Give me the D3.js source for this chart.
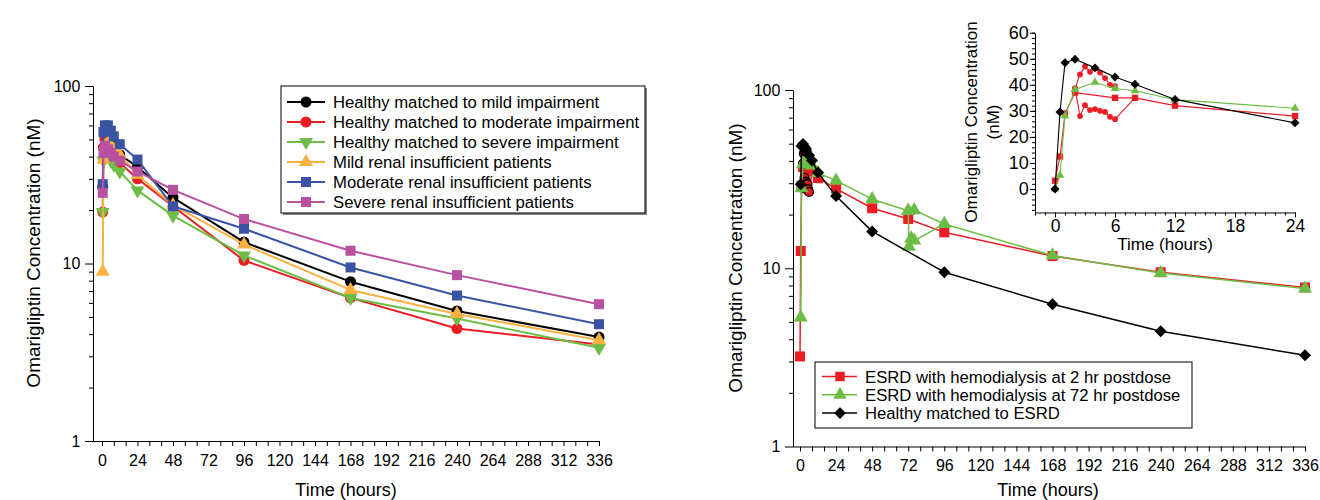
<!DOCTYPE html>
<html><head><meta charset="utf-8">
<script src="https://cdn.jsdelivr.net/npm/d3@7"></script>
<style>body{margin:0;background:#fff}svg{display:block}</style>
</head><body><svg id="c" width="1320" height="500"></svg>
<script>
// ---------------- DATA ----------------
// Left panel: renal insufficiency study (time in hours, concentration in nM)
const leftTimes = [0.5, 1, 2, 4, 6, 8, 12, 24, 48, 96, 168, 240, 336];
const healthyMild     = [27, 45, 52, 50, 47, 44, 41, 35, 23.5, 13.2, 7.9, 5.4, 3.85];
const healthyModerate = [19.5, 45, 50, 47, 43, 40, 37, 30, 21, 10.4, 6.4, 4.3, 3.5];
const healthySevere   = [19.5, 38, 42, 41, 38, 36, 33, 25.8, 18.6, 11.1, 6.4, 4.9, 3.35];
const mildRenal       = [9, 38.5, 46, 48, 46, 44, 41, 31.5, 21.3, 12.8, 7.1, 5.2, 3.7];
const moderateRenal   = [28, 55, 60, 60, 56, 52, 47, 38.5, 21, 15.7, 9.5, 6.6, 4.55];
const severeRenal     = [25, 42, 46, 44, 42, 40, 38, 33, 26, 17.8, 11.8, 8.6, 5.9];
const leftNames = ["Healthy matched to mild impairment", "Healthy matched to moderate impairment",
  "Healthy matched to severe impairment", "Mild renal insufficient patients",
  "Moderate renal insufficient patients", "Severe renal insufficient patients"];

// Right panel: ESRD study
const esrd2Times = [0, 0.5, 1, 2, 6, 8, 12, 24, 48, 72, 96, 168, 240, 336];
const esrd2Conc  = [3.2, 12.5, 29, 37, 35, 35, 32, 28, 21.7, 18.9, 15.9, 11.7, 9.5, 7.8];
const esrd2UpperTimes = [2, 2.5, 3, 3.5, 4, 4.5, 5, 5.5, 6];
const esrd2Upper      = [38.6, 44, 47, 45, 46.5, 44.7, 42.6, 40, 39.5];
const esrd2LowerTimes = [2, 2.5, 3, 3.5, 4, 4.5, 5, 5.5, 6, 8];
const esrd2Lower      = [38.6, 28, 32.2, 30.3, 30.7, 30, 29.6, 27.7, 26.8, 35];
const esrd72Times = [0, 0.5, 1, 2, 4, 6, 8, 12, 24, 48, 72, 76, 96, 168, 240, 336];
const esrd72Conc  = [0, 5.3, 28.1, 38.2, 41, 38.6, 37.7, 34.3, 31, 24.4, 21, 21.2, 17.7, 11.8, 9.4, 7.7];
const esrd72LowerTimes = [72, 72.5, 74, 76, 96];
const esrd72Lower      = [21, 13.2, 14.7, 14.3, 17.7];
const healthyEsrdTimes = [0, 0.5, 1, 2, 4, 6, 8, 12, 24, 48, 96, 168, 240, 336];
const healthyEsrdConc  = [0, 29.6, 48.5, 49.8, 46.5, 43, 40.2, 34.4, 25.4, 16.1, 9.5, 6.28, 4.43, 3.25];
const rightNames = ["ESRD with hemodialysis at 2 hr postdose", "ESRD with hemodialysis at 72 hr postdose", "Healthy matched to ESRD"];

// Tick values
const xTickLabels = d3.range(0, 337, 24);
const xMinorTicks = d3.range(0, 337, 8);
const logMajor = [1, 10, 100];
const logMinor = [2,3,4,5,6,7,8,9,20,30,40,50,60,70,80,90];
const insetYTicks = [0, 10, 20, 30, 40, 50, 60];
const insetXTicks = [0, 6, 12, 18, 24];

// ---------------- STYLE ----------------
const C = {black:"#000000", red:"#ed1c24", green:"#6cbd45", orange:"#fbb040", blue:"#3a54a4", purple:"#b8519f"};
const FONT = "'Liberation Sans', Arial, sans-serif";
const NARROW = "'Liberation Sans Narrow', 'Arial Narrow', 'Liberation Sans', Arial, sans-serif";

const svg = d3.select("#c");
svg.append("rect").attr("width",1320).attr("height",500).attr("fill","#fff");

function symPath(type, size){
  const map = {circle:d3.symbolCircle, up:d3.symbolTriangle, down:d3.symbolTriangle, square:d3.symbolSquare, diamond:d3.symbolSquare};
  return d3.symbol(map[type], size)();
}
function symRot(type){ return type==="down" ? 180 : (type==="diamond" ? 45 : 0); }

function drawSeries(g, x, y, times, vals, color, type, size, lw, markerMask, strokeMarker){
  const pts = times.map((t,i)=>({t, v:vals[i]}));
  const line = d3.line().x(d=>x(d.t)).y(d=>y(d.v));
  g.append("path").datum(pts).attr("d", line).attr("fill","none").attr("stroke",color).attr("stroke-width",lw).attr("stroke-linejoin","round");
  const mp = markerMask ? pts.filter((d,i)=>markerMask(d,i,pts)) : pts;
  g.selectAll(null).data(mp).enter().append("path")
    .attr("d", symPath(type,size))
    .attr("transform", d=>`translate(${x(d.t)},${y(d.v)}) rotate(${symRot(type)})`)
    .attr("fill", color)
    .attr("stroke", strokeMarker || "none").attr("stroke-width", strokeMarker?1.3:0);
}

function mainAxes(g, x, y, yAxisX, titleX, titleCY, titleCX){
  const yb = y.range()[0];
  const xa = g.append("g").attr("transform",`translate(0,${yb})`)
    .call(d3.axisBottom(x).tickValues(xMinorTicks).tickSize(5).tickSizeOuter(0).tickFormat(d=> d%24===0 ? d : ""));
  xa.selectAll("text").attr("font-family",NARROW).attr("font-size",16).attr("fill","#000").attr("dy","1.05em");
  xa.select(".domain").attr("stroke","#000");
  xa.selectAll(".tick line").attr("stroke","#000");
  const ya = g.append("g").attr("transform",`translate(${yAxisX},0)`)
    .call(d3.axisLeft(y).tickValues(logMajor).tickSize(8).tickSizeOuter(0).tickFormat(d3.format("d")));
  ya.selectAll("text").attr("font-family",FONT).attr("font-size",16).attr("fill","#000").attr("dx","-0.1em");
  ya.select(".domain").attr("stroke","#000");
  ya.selectAll(".tick line").attr("stroke","#000");
  const ym = g.append("g").attr("transform",`translate(${yAxisX},0)`)
    .call(d3.axisLeft(y).tickValues(logMinor).tickSize(4).tickFormat(""));
  ym.select(".domain").remove();
  ym.selectAll(".tick line").attr("stroke","#000");
  g.append("text").attr("x",titleCX).attr("y",496).attr("text-anchor","middle")
    .attr("font-family",FONT).attr("font-size",18).text("Time (hours)");
  g.append("text").attr("transform",`translate(${titleX},${titleCY}) rotate(-90)`)
    .attr("text-anchor","middle").attr("font-family",FONT).attr("font-size",19)
    .text("Omarigliptin Concentration (nM)");
}

// ---------------- LEFT PANEL ----------------
const xL = d3.scaleLinear().domain([-6.08, 336]).range([93, 599]);
const yL = d3.scaleLog().domain([1, 100]).range([441, 86]);
const gL = svg.append("g");
mainAxes(gL, xL, yL, 93, 40, 253, 346);

const leftSeries = [
  {vals:healthyMild, color:C.black, type:"circle", size:95},
  {vals:healthyModerate, color:C.red, type:"circle", size:95},
  {vals:healthySevere, color:C.green, type:"down", size:85},
  {vals:mildRenal, color:C.orange, type:"up", size:85},
  {vals:moderateRenal, color:C.blue, type:"square", size:100},
  {vals:severeRenal, color:C.purple, type:"square", size:100}
];
leftSeries.forEach(s => drawSeries(gL, xL, yL, leftTimes, s.vals, s.color, s.type, s.size, 2));

// left legend
const lg = svg.append("g");
lg.append("rect").attr("x",283).attr("y",88).attr("width",364).attr("height",127).attr("fill","#888");
lg.append("rect").attr("x",281).attr("y",86).attr("width",364).attr("height",127).attr("fill","#fff").attr("stroke","#000").attr("stroke-width",1);
leftSeries.forEach((s,i)=>{
  const cy = 102 + i*20;
  lg.append("line").attr("x1",287).attr("x2",325).attr("y1",cy).attr("y2",cy).attr("stroke",s.color).attr("stroke-width",2);
  lg.append("path").attr("d",symPath(s.type,s.size)).attr("transform",`translate(306,${cy}) rotate(${symRot(s.type)})`).attr("fill",s.color);
  lg.append("text").attr("x",333).attr("y",cy).attr("dy","0.36em").attr("font-family",FONT).attr("font-size",16.7).text(leftNames[i]);
});

// ---------------- RIGHT PANEL ----------------
const xR = d3.scaleLinear().domain([-4.99, 336]).range([792.5, 1305]);
const yR = d3.scaleLog().domain([1, 100]).range([446.5, 90]);
const gR = svg.append("g");
mainAxes(gR, xR, yR, 793, 742, 258, 1048);

function posSeries(times, vals){ const T=[],V=[]; times.forEach((t,i)=>{ if(vals[i]>0){T.push(t);V.push(vals[i]);} }); return [T,V]; }

let [t1,v1] = posSeries(esrd2Times, esrd2Conc);
drawSeries(gR, xR, yR, t1, v1, C.red, "square", 100, 1.5);
drawSeries(gR, xR, yR, esrd2UpperTimes, esrd2Upper, C.red, "circle", 60, 1.5, null, "#000");
drawSeries(gR, xR, yR, esrd2LowerTimes, esrd2Lower, C.red, "circle", 60, 1.5, (d,i,a)=> i < a.length-1, "#000");
let [t2,v2] = posSeries(esrd72Times, esrd72Conc);
drawSeries(gR, xR, yR, t2, v2, C.green, "up", 85, 1.5);
drawSeries(gR, xR, yR, esrd72LowerTimes, esrd72Lower, C.green, "up", 85, 1.5);
let [t3,v3] = posSeries(healthyEsrdTimes, healthyEsrdConc);
drawSeries(gR, xR, yR, t3, v3, C.black, "diamond", 72, 1.5);

// right legend
const rg = svg.append("g");
rg.append("rect").attr("x",815).attr("y",362).attr("width",377).attr("height",66).attr("fill","#fff").attr("stroke","#000").attr("stroke-width",1);
const rightLeg = [{color:C.red,type:"square",size:90},{color:C.green,type:"up",size:80},{color:C.black,type:"diamond",size:70}];
rightLeg.forEach((s,i)=>{
  const cy = 376.5 + i*18.3;
  rg.append("line").attr("x1",822).attr("x2",857).attr("y1",cy).attr("y2",cy).attr("stroke",s.color).attr("stroke-width",1.5);
  rg.append("path").attr("d",symPath(s.type,s.size)).attr("transform",`translate(840,${cy}) rotate(${symRot(s.type)})`).attr("fill",s.color);
  rg.append("text").attr("x",865).attr("y",cy).attr("dy","0.36em").attr("font-family",FONT).attr("font-size",16.7).text(rightNames[i]);
});

// ---------------- INSET ----------------
const xI = d3.scaleLinear().domain([-2, 24]).range([1035, 1295]);
const yI = d3.scaleLinear().domain([-9, 60]).range([212.5, 32.7]);
const gI = svg.append("g");
const ixa = gI.append("g").attr("transform",`translate(0,212.5)`)
  .call(d3.axisBottom(xI).tickValues(insetXTicks).tickSize(5).tickSizeOuter(0));
ixa.selectAll("text").attr("font-family",FONT).attr("font-size",17.5).attr("fill","#000").attr("dy","0.68em");
const ixm = gI.append("g").attr("transform",`translate(0,212.5)`)
  .call(d3.axisBottom(xI).tickValues(d3.range(-2,25,1)).tickSize(3).tickFormat(""));
ixm.select(".domain").remove();
const iya = gI.append("g").attr("transform",`translate(1035,0)`)
  .call(d3.axisLeft(yI).tickValues(insetYTicks).tickSize(5).tickSizeOuter(0));
iya.selectAll("text").attr("font-family",FONT).attr("font-size",18).attr("fill","#000").attr("dx","0.1em");
const iym = gI.append("g").attr("transform",`translate(1035,0)`)
  .call(d3.axisLeft(yI).tickValues(d3.range(-8,61,2)).tickSize(3).tickFormat(""));
iym.select(".domain").remove();
gI.selectAll(".domain, .tick line").attr("stroke","#000");
gI.append("text").attr("x",1165).attr("y",250).attr("text-anchor","middle").attr("font-family",FONT).attr("font-size",17).text("Time (hours)");
gI.append("text").attr("transform","translate(977,122) rotate(-90)").attr("text-anchor","middle").attr("font-family",FONT).attr("font-size",17).text("Omarigliptin Concentration");
gI.append("text").attr("transform","translate(999,122) rotate(-90)").attr("text-anchor","middle").attr("font-family",FONT).attr("font-size",17).text("(nM)");

function early(times, vals){ const T=[],V=[]; times.forEach((t,i)=>{ if(t<=24){T.push(t);V.push(vals[i]);} }); return [T,V]; }
let [a1,b1] = early(esrd2Times, esrd2Conc);
drawSeries(gI, xI, yI, a1, b1, C.red, "square", 40, 1.1);
drawSeries(gI, xI, yI, esrd2UpperTimes, esrd2Upper, C.red, "circle", 26, 1.1);
drawSeries(gI, xI, yI, esrd2LowerTimes, esrd2Lower, C.red, "circle", 26, 1.1, (d,i,a)=> i < a.length-1);
let [a2,b2] = early(esrd72Times, esrd72Conc);
drawSeries(gI, xI, yI, a2, b2, C.green, "up", 32, 1.1);
let [a3,b3] = early(healthyEsrdTimes, healthyEsrdConc);
drawSeries(gI, xI, yI, a3, b3, C.black, "diamond", 40, 1.1);
</script></body></html>
